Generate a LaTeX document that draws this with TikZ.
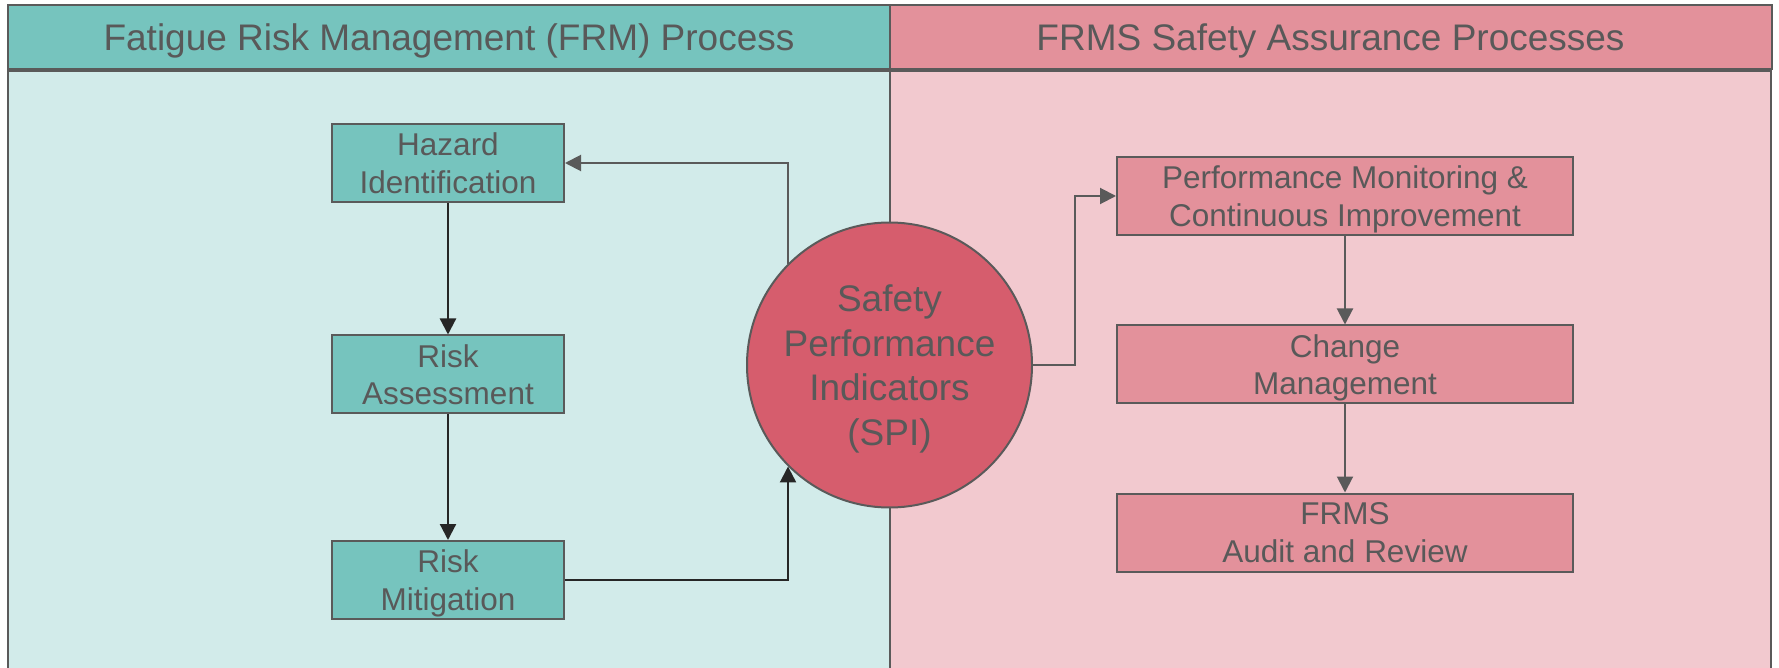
\documentclass[tikz,border=0pt]{standalone}
\usepackage{fontspec}
\setmainfont{Liberation Sans}
\usetikzlibrary{arrows.meta}
\definecolor{txt}{HTML}{595959}
\definecolor{tealhead}{HTML}{76C4BE}
\definecolor{tealbg}{HTML}{D2EBEA}
\definecolor{pinkhead}{HTML}{E3919B}
\definecolor{pinkbg}{HTML}{F2C9CF}
\definecolor{spired}{HTML}{D65D6D}
\definecolor{edge}{HTML}{5A5A5A}
\begin{document}
\begin{tikzpicture}[x=0.5pt,y=-0.5pt,
  panel/.style={draw=edge,line width=1pt},
  header/.style={panel, minimum width=441pt, minimum height=32pt, inner sep=0pt,
    text depth=0pt, font=\fontsize{18.5}{22.2}\selectfont, text=txt},
  lbox/.style={draw=edge, line width=1pt, fill=tealhead, minimum width=116pt,
    minimum height=39pt, inner sep=0pt, align=center, text=txt, text depth=0pt,
    font=\fontsize{15.75}{18.9}\selectfont},
  rbox/.style={lbox, fill=pinkhead, minimum width=228pt},
  spistyle/.style={circle, draw=edge, line width=1pt, fill=spired, minimum size=142.5pt,
    inner sep=0pt, align=center, text=txt, text depth=0pt,
    font=\fontsize{18.5}{22.3}\selectfont},
  arr/.style={draw=edge, line width=1pt, -{Triangle[length=8pt,width=8pt]}},
  barr/.style={draw=black!85, line width=1.1pt, -{Triangle[length=8pt,width=8pt]}}]
\clip (0,0) rectangle (1779,668);
\fill[white] (0,0) rectangle (1779,668);
% panels
\draw[panel, fill=tealbg] (8,71) rectangle (890,700);
\draw[panel, fill=pinkbg] (890,71) rectangle (1771,700);
% headers
\node[header, fill=tealhead] (lhead) at (449,37) {Fatigue Risk Management (FRM) Process};
\node[header, fill=pinkhead] (rhead) at (1330.5,37) {FRMS Safety Assurance Processes};
% left boxes
\node[lbox] (hazard) at (448,163) {Hazard\\Identification};
\node[lbox] (assess) at (448,374.5) {Risk\\Assessment};
\node[lbox] (mitig) at (448,580) {Risk\\Mitigation};
% circle
\node[spistyle] (spi) at (889.5,365) {Safety\\Performance\\Indicators\\(SPI)};
% right boxes
\node[rbox] (perf) at (1345,196) {Performance Monitoring \&\\Continuous Improvement};
\node[rbox] (change) at (1345,364.5) {Change\\Management};
\node[rbox] (audit) at (1345,532.5) {FRMS\\Audit and Review};
% connectors
\draw[barr] (hazard) -- (assess);
\draw[barr] (assess) -- (mitig);
\draw[barr] (mitig.east) -| (spi.225);
\draw[arr] (spi.135) |- (hazard.east);
\draw[arr] (spi.east) -- ++(42,0) |- (perf.west);
\draw[arr] (perf) -- (change);
\draw[arr] (change) -- (audit);
\end{tikzpicture}
\end{document}
